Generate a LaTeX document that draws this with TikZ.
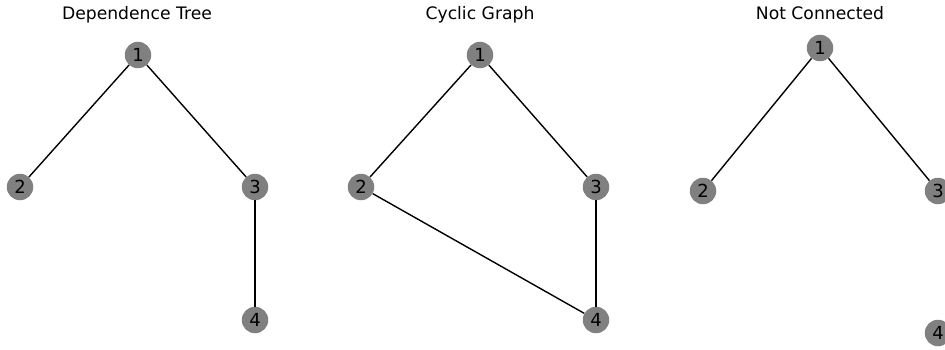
\documentclass[tikz,border=0pt]{standalone}
\usepackage{fontspec}
\setmainfont{DejaVu Sans}
\begin{document}
\begin{tikzpicture}[x=1pt, y=-1pt, font=\fontsize{18}{20}\selectfont,
vertex/.style={circle, fill=gray, minimum size=26.5pt, inner sep=0pt},
edge/.style={line width=1.4pt},
caption/.style={anchor=base, font=\fontsize{17.2}{20}\selectfont}]
\clip (0,0) rectangle (945,350);
% Dependence Tree
\node[caption] (treetitle) at (137,19.5) {Dependence Tree};
\node[vertex] (t1) at (138,55) {1};
\node[vertex] (t2) at (20,187) {2};
\node[vertex] (t3) at (255,187) {3};
\node[vertex] (t4) at (255,320) {4};
\draw[edge] (t1) -- (t2);
\draw[edge] (t1) -- (t3);
\draw[edge] (t3) -- (t4);
% Cyclic Graph
\node[caption] (cyctitle) at (480,19.5) {Cyclic Graph};
\node[vertex] (c1) at (480,55) {1};
\node[vertex] (c2) at (361,187) {2};
\node[vertex] (c3) at (596,187) {3};
\node[vertex] (c4) at (596,320) {4};
\draw[edge] (c1) -- (c2);
\draw[edge] (c1) -- (c3);
\draw[edge] (c2) -- (c4);
\draw[edge] (c3) -- (c4);
% Not Connected
\node[caption] (nctitle) at (820,19.5) {Not Connected};
\node[vertex] (n1) at (820,48) {1};
\node[vertex] (n2) at (703,191) {2};
\node[vertex] (n3) at (938,191) {3};
\node[vertex] (n4) at (938,333) {4};
\draw[edge] (n1) -- (n2);
\draw[edge] (n1) -- (n3);
\end{tikzpicture}
\end{document}
